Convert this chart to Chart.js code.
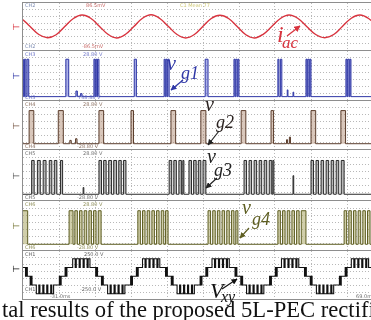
<!DOCTYPE html>
<html>
<head>
<meta charset="utf-8">
<script src="https://cdn.jsdelivr.net/npm/chart.js@4.4.0/dist/chart.umd.min.js"></script>
<style>
  html, body { margin: 0; padding: 0; background: #fff; overflow: hidden; }
  #fig { position: relative; width: 371px; height: 320px; overflow: hidden; }
  .panel { position: absolute; left: 22px; width: 362px; border: 1px solid #8e8e8e; box-sizing: border-box; background: #fff; }
  .tag { position: absolute; font: 5px/1 "DejaVu Sans", sans-serif; white-space: nowrap; }
  .lbl { position: absolute; font-family: "Liberation Serif", serif; font-style: italic; line-height: 1; white-space: nowrap; }
  .gnd { position: absolute; left: 12px; font: 9px/1 "DejaVu Sans", sans-serif; }
  #cap { position: absolute; left: 2px; top: 299px; font: 22.6px/1 "Liberation Serif", serif; color: #111; white-space: nowrap; }
  svg { position: absolute; left: 0; top: 0; }
</style>
</head>
<body>
<div id="fig">
  <div class="panel" style="top:2px;height:49px"><canvas id="c1"></canvas></div>
  <div class="panel" style="top:50px;height:51px"><canvas id="c2"></canvas></div>
  <div class="panel" style="top:100px;height:50px"><canvas id="c3"></canvas></div>
  <div class="panel" style="top:149px;height:52px"><canvas id="c4"></canvas></div>
  <div class="panel" style="top:200px;height:51px"><canvas id="c5"></canvas></div>
  <div class="panel" style="top:250px;height:50px"><canvas id="c6"></canvas></div>
  <div id="overlay"></div>
  <svg width="371" height="320">
    <defs>
      <marker id="ah" viewBox="0 0 10 10" refX="9" refY="5" markerWidth="5" markerHeight="5" orient="auto">
        <path d="M0,0 L10,5 L0,10 z" fill="context-stroke"></path>
      </marker>
    </defs>
    <line x1="287" y1="36" x2="300" y2="26" stroke="#d8343f" stroke-width="1.3" marker-end="url(#ah)"/>
    <line x1="183" y1="80" x2="171" y2="90" stroke="#2f37a6" stroke-width="1.2" marker-end="url(#ah)"/>
    <line x1="219" y1="131" x2="208" y2="145" stroke="#222" stroke-width="1.2" marker-end="url(#ah)"/>
    <line x1="217" y1="178" x2="206" y2="188" stroke="#222" stroke-width="1.2" marker-end="url(#ah)"/>
    <line x1="249" y1="228" x2="240" y2="238" stroke="#5e5e22" stroke-width="1.2" marker-end="url(#ah)"/>
    <line x1="222" y1="289" x2="237" y2="279" stroke="#111" stroke-width="1.2" marker-end="url(#ah)"/>
  </svg>
  <div id="cap">tal results of the proposed 5L-PEC rectifier</div>
</div>
<script>
// time axis, ms (10 ms/div)
const TIME_MIN = -31, TIME_MAX = 69;
const timeTicks = [-31, -21, -11, -1, 9, 19, 29, 39, 49, 59, 69];

// grid current i_ac (normalised)
const iacTime = [-33.9, -31.5, -29.1, -26.6, -24.2, -21.8, -19.4, -17.0, -14.6, -12.2, -9.8, -7.4, -5.0, -2.6, -0.2,
  2.2, 4.6, 7.0, 9.4, 11.8, 14.2, 16.6, 19.0, 21.3, 23.7, 26.1, 28.5, 30.9, 33.3, 35.7, 38.1, 40.5, 42.9,
  45.4, 47.8, 50.3, 52.8, 55.3, 57.7, 60.2, 62.6, 65.0, 67.4, 69.8, 72.2];
const iacValue = [1, 0.7, 0.02, -0.7, -0.98, -0.72, 0, 0.7, 1, 0.72, 0.03, -0.68, -1, -0.7, 0,
  0.72, 1.02, 0.7, 0, -0.7, -1, -0.7, 0.02, 0.7, 0.98, 0.7, 0, -0.72, -1, -0.68, 0, 0.7, 1,
  0.7, 0, -0.7, -0.98, -0.7, 0, 0.72, 1, 0.7, 0, -0.7, -1];

// gate pulses: [start ms, end ms, level (1 = full)]
const vg1Pulses = [[-31.5, -30.9], [-30.6, -30.2], [-29.9, -29.4], [-19.1, -18.3], [-16.3, -15.9, 0.15], [-15.0, -14.6, 0.08],
  [-11.3, -11.0], [-10.8, -10.5], [-10.3, -9.9], [-0.1, 0.5], [8.2, 8.5], [8.7, 9.0], [9.2, 9.6], [19.6, 20.4],
  [27.6, 27.9], [28.1, 28.5], [28.7, 29.0], [39.8, 40.1], [40.5, 40.9], [42.4, 42.6, 0.18], [44.0, 44.2, 0.12],
  [47.6, 47.9], [48.1, 48.5], [48.7, 49.0], [58.7, 59.0], [59.2, 59.6], [59.8, 60.1]];
const vg2Pulses = [[-29.3, -28.0], [-21.2, -19.8], [-18.0, -17.6, 0.1], [-16.4, -16.0, 0.15], [-9.9, -8.6], [-1.0, -0.3],
  [10.1, 11.4], [18.4, 19.8], [29.6, 30.9], [37.9, 38.6], [42.2, 42.5, 0.12], [43.0, 43.3, 0.2], [49.0, 50.3], [57.3, 58.6]];
const vg3Pulses = [[-28.6, -27.9], [-27.0, -26.2], [-25.4, -24.6], [-23.7, -23.0], [-22.3, -21.6], [-20.6, -20.0],
  [-14.3, -14.1, 0.2],
  [-9.9, -9.2], [-8.6, -7.9], [-7.2, -6.4], [-5.8, -5.0], [-4.4, -3.7], [-3.1, -2.4],
  [9.6, 10.3], [10.9, 11.6], [12.3, 13.0], [13.4, 13.7], [15.1, 15.8], [16.4, 17.1], [17.7, 18.4], [19.0, 19.8],
  [30.4, 31.1], [31.8, 32.5], [33.2, 33.9], [34.6, 35.3], [36.0, 36.7], [37.4, 38.1], [38.4, 38.7],
  [44.0, 44.2, 0.55],
  [49.0, 49.7], [50.4, 51.1], [51.8, 52.5], [53.2, 53.9], [54.6, 55.3], [56.0, 56.7], [57.4, 58.2]];
const vg4Pulses = [[-32.0, -29.7],
  [-18.2, -17.1], [-16.6, -15.9], [-15.3, -14.6], [-14.0, -13.3], [-12.7, -12.0], [-11.4, -10.7], [-10.1, -9.3],
  [0.9, 1.6], [2.2, 2.9], [3.5, 4.2], [4.8, 5.5], [6.1, 6.8], [7.4, 8.1], [8.6, 9.3],
  [20.4, 21.1], [21.7, 22.4], [23.0, 23.7], [24.3, 25.0], [25.6, 26.3], [26.9, 27.6], [28.1, 28.7],
  [39.8, 40.5], [41.1, 41.8], [42.4, 43.1], [43.7, 44.4], [45.0, 45.7], [46.3, 47.6],
  [58.2, 58.9], [59.5, 60.2], [60.8, 61.5], [62.1, 62.8], [63.4, 64.1], [64.7, 65.4], [65.9, 66.6]];

// five-level voltage v_xy: [time ms, level from then on]
const vxySteps = [
  [-32, 1], [-30.3, 0], [-30.0, 1], [-29.8, 0], [-29.0, -1], [-28.7, 0], [-28.5, -1],
  [-27.3, -2], [-26.6, -1], [-26.3, -2], [-25.5, -1], [-25.2, -2], [-24.4, -1], [-24.1, -2], [-23.3, -1], [-23.0, -2],
  [-22.5, -1], [-20.9, 0], [-20.6, -1], [-20.4, 0], [-19.3, 1], [-19.0, 0], [-18.8, 1],
  [-17.2, 2], [-16.5, 1], [-16.2, 2], [-15.4, 1], [-15.1, 2], [-14.3, 1], [-14.0, 2], [-13.2, 1], [-12.9, 2],
  [-12.4, 1], [-10.8, 0], [-10.5, 1], [-10.3, 0], [-9.2, -1], [-8.9, 0], [-8.7, -1],
  [-7.5, -2], [-6.8, -1], [-6.5, -2], [-5.7, -1], [-5.4, -2], [-4.6, -1], [-4.3, -2], [-3.5, -1], [-3.2, -2],
  [-2.7, -1], [-1.1, 0], [-0.8, -1], [-0.6, 0], [0.5, 1], [0.8, 0], [1.0, 1],
  [2.2, 2], [2.9, 1], [3.2, 2], [4.0, 1], [4.3, 2], [5.1, 1], [5.4, 2], [6.2, 1], [6.5, 2],
  [7.0, 1], [8.6, 0], [8.9, 1], [9.1, 0], [10.2, -1], [10.5, 0], [10.7, -1],
  [11.8, -2], [12.5, -1], [12.8, -2], [13.6, -1], [13.9, -2], [14.7, -1], [15.0, -2], [15.8, -1], [16.1, -2],
  [16.6, -1], [18.2, 0], [18.5, -1], [18.7, 0], [19.8, 1], [20.1, 0], [20.3, 1],
  [21.5, 2], [22.2, 1], [22.5, 2], [23.3, 1], [23.6, 2], [24.4, 1], [24.7, 2], [25.5, 1], [25.8, 2],
  [26.3, 1], [27.9, 0], [28.2, 1], [28.4, 0], [29.5, -1], [29.8, 0], [30.0, -1],
  [31.1, -2], [31.8, -1], [32.1, -2], [32.9, -1], [33.2, -2], [34.0, -1], [34.3, -2], [35.1, -1], [35.4, -2],
  [35.9, -1], [37.5, 0], [37.8, -1], [38.0, 0], [39.1, 1], [39.4, 0], [39.6, 1],
  [40.8, 2], [41.5, 1], [41.8, 2], [42.6, 1], [42.9, 2], [43.7, 1], [44.0, 2], [44.8, 1], [45.1, 2],
  [45.6, 1], [47.2, 0], [47.5, 1], [47.7, 0], [48.8, -1], [49.1, 0], [49.3, -1],
  [50.5, -2], [51.2, -1], [51.5, -2], [52.3, -1], [52.6, -2], [53.4, -1], [53.7, -2], [54.5, -1], [54.8, -2],
  [55.3, -1], [56.9, 0], [57.2, -1], [57.4, 0], [58.5, 1], [58.8, 0], [59.0, 1],
  [60.2, 2], [60.9, 1], [61.2, 2], [62.0, 1], [62.3, 2], [63.1, 1], [63.4, 2], [64.2, 1], [64.5, 2],
  [65.0, 1], [66.6, 0], [66.9, 1], [67.1, 0], [68.2, -1], [68.5, 0], [68.7, -1], [72, -1]];

// scope readouts
const readouts = [
  ['CH2', 25, 3, '#6b7ba8'], ['86.5mV', 86, 3, '#c0504d'], ['C1 Mean 77', 180, 3, '#c8c060'],
  ['CH2', 25, 44, '#6b7ba8'], ['-86.5mV', 82, 44, '#c0504d'],
  ['CH3', 25, 52, '#5a63c0'], ['28.80 V', 83, 52, '#5a63c0'], ['CH3', 25, 95, '#5a63c0'], ['768.88 V', 78, 95, '#5a63c0'],
  ['CH4', 25, 102, '#7a5a48'], ['28.80 V', 83, 102, '#7a5a48'], ['CH4', 25, 144, '#7a5a48'], ['-28.80 V', 77, 144, '#7a5a48'],
  ['CH5', 25, 151, '#555'], ['28.80 V', 83, 151, '#555'], ['CH5', 25, 195, '#555'], ['-28.80 V', 77, 195, '#555'],
  ['CH6', 25, 202, '#7a7a3a'], ['28.80 V', 83, 202, '#7a7a3a'], ['CH6', 25, 245, '#7a7a3a'], ['-28.80 V', 77, 245, '#7a7a3a'],
  ['CH1', 25, 252, '#444'], ['250.0 V', 84, 252, '#444'], ['CH1', 25, 287, '#444'], ['-250.0 V', 80, 287, '#444'],
  ['-31.0ms', 50, 294, '#555'], ['69.0ms', 356, 294, '#555']
];

const ov = document.getElementById('overlay');
readouts.forEach(([t, x, y, c]) => {
  const d = document.createElement('div');
  d.className = 'tag';
  d.style.cssText = `left:${x}px;top:${y}px;color:${c};opacity:0.85`;
  d.textContent = t;
  ov.appendChild(d);
});

// trace names and ground markers
const names = [
  ['i', 'ac', 277, 22, 24, 282, 34, 17, '#d8343f'],
  ['v', 'g1', 167, 53, 20, 181, 64, 18, '#2f37a6'],
  ['v', 'g2', 205, 94, 20, 216, 113, 18, '#2a2220'],
  ['v', 'g3', 207, 146, 20, 214, 161, 18, '#222'],
  ['v', 'g4', 242, 197, 20, 252, 210, 18, '#5e5e22'],
  ['V', 'xy', 210, 280, 22, 221, 289, 16, '#111']
];
names.forEach(([a, b, ax, ay, as, bx, by, bs, c]) => {
  const m = document.createElement('div');
  m.className = 'lbl';
  m.style.cssText = `left:${ax}px;top:${ay}px;font-size:${as}px;color:${c}`;
  m.textContent = a;
  ov.appendChild(m);
  const s = document.createElement('div');
  s.className = 'lbl';
  s.style.cssText = `left:${bx}px;top:${by}px;font-size:${bs}px;color:${c}`;
  s.textContent = b;
  ov.appendChild(s);
});
[[23, '#d8343f'], [72, '#2f37a6'], [122, '#7a5a48'], [172, '#555'], [222, '#7a7a3a'], [265, '#111']].forEach(([y, c]) => {
  const g = document.createElement('div');
  g.className = 'gnd';
  g.style.cssText = `top:${y}px;color:${c}`;
  g.textContent = '⊢';
  ov.appendChild(g);
});

function pulseTrain(pulses) {
  const pts = [{ x: -40, y: 0 }];
  pulses.forEach(([s, e, h = 1]) => { pts.push({ x: s, y: h }, { x: e, y: 0 }); });
  pts.push({ x: 80, y: 0 });
  return pts;
}

const edgeHidden = (ctx) => {
  const n = ctx.scale.ticks.length - 1;
  return (ctx.index === 0 || ctx.index === n) ? 'rgba(0,0,0,0)' : '#b8b8b8';
};

function makePanel(id, yMin, yMax, datasets) {
  new Chart(document.getElementById(id), {
    type: 'line',
    data: { datasets: datasets },
    options: {
      animation: false,
      responsive: true,
      maintainAspectRatio: false,
      layout: { padding: 0 },
      plugins: { legend: { display: false }, tooltip: { enabled: false } },
      elements: { point: { radius: 0 } },
      scales: {
        x: {
          type: 'linear', min: TIME_MIN, max: TIME_MAX,
          afterBuildTicks: (ax) => { ax.ticks = timeTicks.map(v => ({ value: v })); },
          ticks: { display: false },
          grid: { color: edgeHidden, drawTicks: false, lineWidth: 1 },
          border: { display: false, dash: [1, 2] }
        },
        y: {
          min: yMin, max: yMax,
          afterBuildTicks: (ax) => {
            const n = 7, t = [];
            for (let k = 0; k <= n; k++) t.push({ value: ax.min + k * (ax.max - ax.min) / n });
            ax.ticks = t;
          },
          ticks: { display: false },
          grid: { color: edgeHidden, drawTicks: false, lineWidth: 1 },
          border: { display: false, dash: [1, 2] }
        }
      }
    }
  });
}

function gate(pulses, line, fillc) {
  return {
    data: pulseTrain(pulses), stepped: true, borderColor: line, borderWidth: 1,
    fill: { value: 0 }, backgroundColor: fillc
  };
}

makePanel('c1', -2.05, 2.05, [{
  data: iacTime.map((t, i) => ({ x: t, y: iacValue[i] })),
  borderColor: '#d8343f', borderWidth: 1.4, tension: 0.4, fill: false
}]);
makePanel('c2', -0.09, 1.22, [gate(vg1Pulses, '#2f37a6', 'rgba(90,100,210,0.5)')]);
makePanel('c3', -0.16, 1.29, [gate(vg2Pulses, '#5b3d2c', 'rgba(170,130,105,0.45)')]);
makePanel('c4', -0.17, 1.31, [gate(vg3Pulses, '#2a2a2a', 'rgba(110,110,110,0.5)')]);
makePanel('c5', -0.17, 1.29, [gate(vg4Pulses, '#5e5e22', 'rgba(170,165,100,0.55)')]);
makePanel('c6', -2.6, 2.88, [{
  data: vxySteps.map(([t, l]) => ({ x: t, y: l })),
  stepped: true, borderColor: '#111', borderWidth: 1.1, fill: false
}]);
</script>
</body>
</html>
